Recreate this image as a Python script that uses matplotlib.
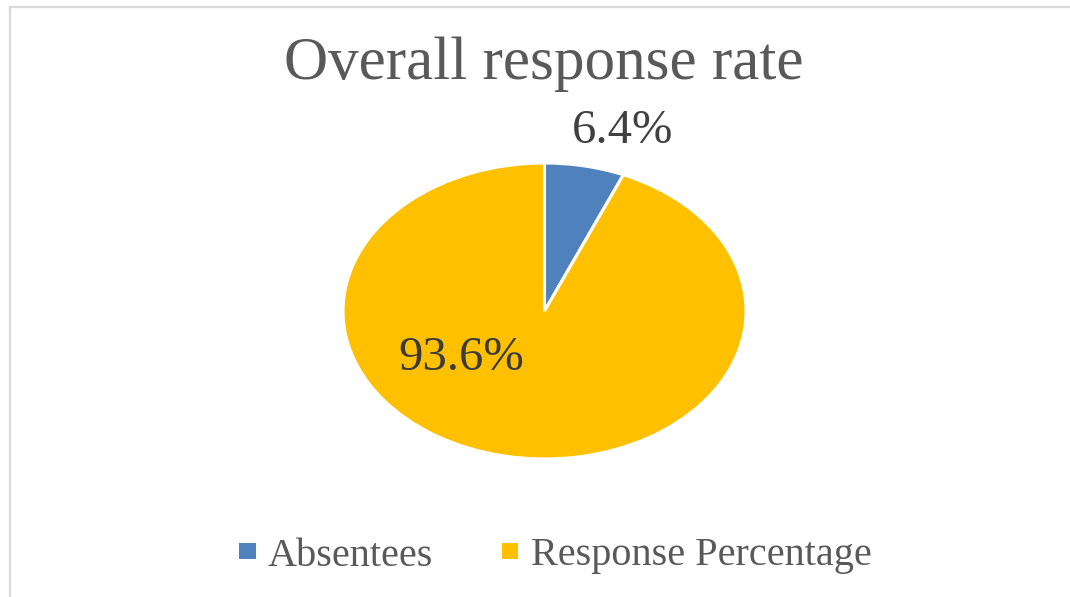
import matplotlib
matplotlib.use("Agg")
import matplotlib.pyplot as plt
from matplotlib.patches import Patch, Rectangle

# response data
labels = ["Absentees", "Response Percentage"]
shares = [6.4, 93.6]
colors = ["#4F81BD", "#FFC000"]
title = "Overall response rate"

plt.rcParams["font.family"] = ["Liberation Serif", "DejaVu Serif"]

W, H = 1070, 597
fig = plt.figure(figsize=(W / 100, H / 100), dpi=100)
fig.patch.set_facecolor("white")

# light grey chart-area frame (runs off the right and bottom edges)
fig.patches.append(Rectangle((10 / W, -0.05), 1.1, 1 - 7 / H + 0.05,
                             transform=fig.transFigure, fill=False,
                             edgecolor="#d9d9d9", linewidth=1.6))

# pie axes, stretched into an ellipse
ax = fig.add_axes([343 / W, 1 - 459 / H, 403 / W, 296 / H])
wedges, _ = ax.pie(shares, colors=colors, startangle=90, counterclock=False,
                   radius=1.0, wedgeprops=dict(edgecolor="white", linewidth=2.2))
ax.set_aspect("auto")
ax.set_xlim(-1, 1)
ax.set_ylim(-1, 1)
ax.axis("off")

# data labels
ax.text(0.385, 1.135, f"{shares[0]}%", ha="center", va="baseline",
        fontsize=35, color="#404040", clip_on=False)
ax.text(-0.414, -0.399, f"{shares[1]}%", ha="center", va="baseline",
        fontsize=35, color="#3a3a3a", clip_on=False)

fig.text(544 / W, 1 - 79 / H, title, ha="center", va="baseline",
         fontsize=44, color="#595959")

handles = [Patch(facecolor=c, edgecolor="none") for c in colors]
fig.legend(handles, labels, ncol=2, loc="center",
           bbox_to_anchor=(555 / W, 1 - 556 / H), frameon=False,
           fontsize=29, labelcolor="#595959",
           handlelength=0.42, handleheight=0.25, handletextpad=0.3,
           columnspacing=1.7)

fig.savefig("out.png", dpi=100, facecolor="white")
